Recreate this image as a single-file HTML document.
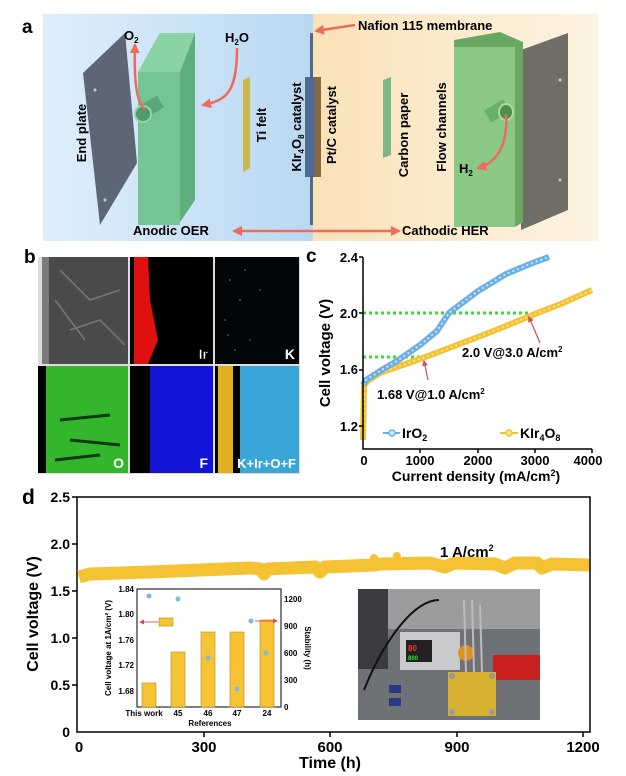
<!DOCTYPE html>
<html><head><meta charset="utf-8"><style>
body{margin:0;background:#fff}
svg{display:block;font-family:"Liberation Sans",Arial,sans-serif;font-weight:bold}
</style></head><body>
<svg width="626" height="776" viewBox="0 0 626 776" xmlns="http://www.w3.org/2000/svg">
<defs>
<linearGradient id="gb" x1="0" x2="1"><stop offset="0" stop-color="#dfeefb"/><stop offset="1" stop-color="#b9d8f2"/></linearGradient>
<linearGradient id="gy" x1="0" x2="1"><stop offset="0" stop-color="#fae2b8"/><stop offset="1" stop-color="#fdf3e2"/></linearGradient>
<marker id="ar" viewBox="0 0 10 10" refX="8" refY="5" markerWidth="4" markerHeight="4" orient="auto"><path d="M0,0L10,5L0,10z" fill="#ee6a5a"/></marker>
<marker id="ar2" viewBox="0 0 10 10" refX="8" refY="5" markerWidth="5" markerHeight="5" orient="auto"><path d="M0,0L10,5L0,10z" fill="#d05050"/></marker>
</defs>
<!-- Panel a -->
<text x="22" y="33" font-size="19">a</text>
<rect x="43" y="14" width="270" height="227" fill="url(#gb)"/>
<rect x="313" y="14" width="285" height="227" fill="url(#gy)"/>
<polygon points="83,73 125,33 137,163 100,225" fill="#5d6675"/>
<circle cx="95" cy="90" r="1.5" fill="#ccc"/><circle cx="105" cy="200" r="1.5" fill="#ccc"/>
<polygon points="138,72 160,33 195,33 195,200 178,225 138,225" fill="#5fae7d"/>
<rect x="138" y="72" width="42" height="153" fill="#74c593"/>
<polygon points="138,72 160,33 195,33 180,72" fill="#8ad3a4"/>
<rect x="140" y="100" width="22" height="14" fill="#5aa877" transform="rotate(-30 151 107)"/>
<ellipse cx="143" cy="114" rx="8" ry="8" fill="#4c9a69" stroke="#8fd6a8" stroke-width="2"/>
<path d="M145,109 C136,102 134,80 135,45" stroke="#ee6a5a" stroke-width="2.5" fill="none" marker-end="url(#ar)"/>
<text x="124" y="40" font-size="13">O<tspan font-size="8" dy="3">2</tspan></text>
<path d="M237,48 C237,95 225,100 203,105" stroke="#ee6a5a" stroke-width="2.5" fill="none" marker-end="url(#ar)"/>
<text x="225" y="42" font-size="13">H<tspan font-size="8" dy="3">2</tspan><tspan dy="-3">O</tspan></text>
<polygon points="243,80 250,77 250,168 243,172" fill="#c9b94a"/>
<text transform="translate(86,133) rotate(-90)" font-size="13" text-anchor="middle">End plate</text>
<text transform="translate(266,125) rotate(-90)" font-size="13" text-anchor="middle">Ti felt</text>
<rect x="310" y="33" width="3" height="192" fill="#50698a"/>
<rect x="305" y="77" width="10" height="100" fill="#4e6a90"/>
<rect x="315" y="77" width="6" height="100" fill="#8a6a3a"/>
<text transform="translate(301,127) rotate(-90)" font-size="13" text-anchor="middle">KIr<tspan font-size="8" dy="3">4</tspan><tspan dy="-3">O</tspan><tspan font-size="8" dy="3">8</tspan><tspan dy="-3"> catalyst</tspan></text>
<text transform="translate(336,125) rotate(-90)" font-size="13" text-anchor="middle">Pt/C catalyst</text>
<polygon points="383,80 391,77 391,155 383,158" fill="#7ab888"/>
<text transform="translate(408,135) rotate(-90)" font-size="13" text-anchor="middle">Carbon paper</text>
<polygon points="521,50 568,33 568,210 521,230" fill="#6f6d66"/>
<circle cx="560" cy="80" r="1.5" fill="#ccc"/><circle cx="560" cy="180" r="1.5" fill="#ccc"/>
<polygon points="454,40 500,32 523,42 523,222 515,227 454,227" fill="#6aa862"/>
<rect x="454" y="47" width="61" height="180" fill="#8ac985"/>
<rect x="486" y="104" width="22" height="14" fill="#6caf68" transform="rotate(-30 497 111)"/>
<ellipse cx="506" cy="112" rx="7" ry="8" fill="#4f8f4c" stroke="#a5dc9c" stroke-width="2"/>
<path d="M506,114 C508,140 500,162 478,168" stroke="#ee6a5a" stroke-width="2.5" fill="none" marker-end="url(#ar)"/>
<text x="459" y="173" font-size="13">H<tspan font-size="8" dy="3">2</tspan></text>
<text transform="translate(446,127) rotate(-90)" font-size="13" text-anchor="middle">Flow channels</text>
<line x1="355" y1="25" x2="316" y2="31" stroke="#ee6a5a" stroke-width="2.5" marker-end="url(#ar)"/>
<text x="358" y="30" font-size="13">Nafion 115 membrane</text>
<text x="133" y="235" font-size="13">Anodic OER</text>
<text x="402" y="235" font-size="13">Cathodic HER</text>
<line x1="313" y1="231" x2="234" y2="231" stroke="#ee6a5a" stroke-width="2.5" marker-end="url(#ar)"/>
<line x1="313" y1="231" x2="399" y2="231" stroke="#ee6a5a" stroke-width="2.5" marker-end="url(#ar)"/>
<!-- Panel b -->
<text x="24" y="263" font-size="19">b</text>
<rect x="38" y="257" width="262" height="217" fill="#ddd"/>
<rect x="42" y="257" width="86" height="107" fill="#4a4a4a"/>
<rect x="42" y="257" width="7" height="107" fill="#7a7a7a"/>
<path d="M60,270 L90,300 L120,290 M70,330 L100,320 L125,345 M55,300 L85,340" stroke="#777" stroke-width="1.5" fill="none"/>
<rect x="130" y="257" width="83" height="107" fill="#000"/>
<path d="M134,257 L148,257 L150,300 L158,340 L148,364 L134,364z" fill="#e01010"/>
<text x="208" y="359" font-size="14" fill="#fff" stroke="#000" stroke-width=".5" text-anchor="end">Ir</text>
<rect x="215" y="257" width="84" height="107" fill="#020608"/>
<g fill="#4b8f8a"><circle cx="230" cy="280" r=".8"/><circle cx="240" cy="300" r=".8"/><circle cx="225" cy="320" r=".8"/><circle cx="250" cy="340" r=".8"/><circle cx="235" cy="350" r=".8"/><circle cx="260" cy="290" r=".8"/><circle cx="245" cy="270" r=".8"/><circle cx="228" cy="335" r=".8"/></g>
<text x="295" y="359" font-size="14" fill="#fff" text-anchor="end">K</text>
<rect x="38" y="366" width="90" height="107" fill="#000"/>
<rect x="46" y="366" width="82" height="107" fill="#33b52c"/>
<path d="M60,420 L110,415 M70,440 L120,445 M55,460 L100,455" stroke="#103a10" stroke-width="3"/>
<text x="124" y="468" font-size="14" fill="#fff" text-anchor="end">O</text>
<rect x="130" y="366" width="83" height="107" fill="#000"/>
<rect x="150" y="366" width="63" height="107" fill="#1414d8"/>
<text x="208" y="468" font-size="14" fill="#fff" text-anchor="end">F</text>
<rect x="215" y="366" width="84" height="107" fill="#000"/>
<rect x="218" y="366" width="15" height="107" fill="#e0b020"/>
<rect x="240" y="366" width="59" height="107" fill="#3aa6d8"/>
<text x="296" y="468" font-size="13" fill="#fff" text-anchor="end">K+Ir+O+F</text>
<!-- Panel c -->
<text x="306" y="262" font-size="19">c</text>
<g font-size="13" text-anchor="end">
<text x="358" y="262">2.4</text><text x="358" y="318">2.0</text><text x="358" y="374">1.6</text><text x="358" y="431">1.2</text></g>
<g font-size="13" text-anchor="middle">
<text x="364" y="465">0</text><text x="420" y="465">1000</text><text x="478" y="465">2000</text><text x="535" y="465">3000</text><text x="588" y="465">4000</text></g>
<text x="476" y="481" font-size="14" text-anchor="middle">Current density (mA/cm<tspan font-size="9" dy="-5">2</tspan><tspan dy="5">)</tspan></text>
<text transform="translate(330,353) rotate(-90)" font-size="15" text-anchor="middle">Cell voltage (V)</text>
<line x1="363" y1="313" x2="528" y2="313" stroke="#33dd33" stroke-width="3" stroke-dasharray="3,3"/>
<line x1="363" y1="357" x2="423" y2="357" stroke="#33dd33" stroke-width="3" stroke-dasharray="3,3"/>
<polyline points="363,440 364,386 366,383 369,380 380,373 397,367 420,359 449,348 478,337 506,326 535,314 563,303 592,290" fill="none" stroke="#f3c234" stroke-width="6"/>
<polyline points="363,440 364,386 366,383 369,380 380,373 397,367 420,359 449,348 478,337 506,326 535,314 563,303 592,290" fill="none" stroke="#fde58a" stroke-width="2" stroke-dasharray="2,3"/>
<polyline points="363,385 366,380 380,371 397,361 420,345 437,331 449,313 478,291 506,274 535,262 549,257" fill="none" stroke="#6aaee6" stroke-width="6"/>
<polyline points="363,385 366,380 380,371 397,361 420,345 437,331 449,313 478,291 506,274 535,262 549,257" fill="none" stroke="#cfe6fa" stroke-width="2" stroke-dasharray="2,3"/>
<path d="M363,257 V449 H592" fill="none" stroke="#000" stroke-width="1.5"/>
<g stroke="#000" stroke-width="1.5"><line x1="359" y1="257" x2="363" y2="257"/><line x1="359" y1="313" x2="363" y2="313"/><line x1="359" y1="370" x2="363" y2="370"/><line x1="359" y1="426" x2="363" y2="426"/>
<line x1="420" y1="449" x2="420" y2="453"/><line x1="478" y1="449" x2="478" y2="453"/><line x1="535" y1="449" x2="535" y2="453"/><line x1="592" y1="449" x2="592" y2="453"/></g>
<line x1="540" y1="343" x2="529" y2="317" stroke="#d05050" stroke-width="1.2" marker-end="url(#ar2)"/>
<line x1="428" y1="380" x2="424" y2="361" stroke="#d05050" stroke-width="1.2" marker-end="url(#ar2)"/>
<text x="462" y="357" font-size="13">2.0 V@3.0 A/cm<tspan font-size="8" dy="-5">2</tspan></text>
<text x="377" y="399" font-size="13">1.68 V@1.0 A/cm<tspan font-size="8" dy="-5">2</tspan></text>
<line x1="383" y1="433" x2="400" y2="433" stroke="#6aaee6" stroke-width="2"/><circle cx="392" cy="433" r="3" fill="#cfe6fa" stroke="#6aaee6" stroke-width="1.5"/>
<text x="402" y="438" font-size="14">IrO<tspan font-size="9" dy="3">2</tspan></text>
<line x1="500" y1="433" x2="518" y2="433" stroke="#f3c234" stroke-width="2"/><circle cx="509" cy="433" r="3" fill="#fde58a" stroke="#f3c234" stroke-width="1.5"/>
<text x="520" y="438" font-size="14">KIr<tspan font-size="9" dy="3">4</tspan><tspan dy="-3">O</tspan><tspan font-size="9" dy="3">8</tspan></text>
<!-- Panel d -->
<text x="22" y="504" font-size="21">d</text>
<rect x="77" y="497" width="513" height="235" fill="none" stroke="#000" stroke-width="1.5"/>
<g font-size="14" text-anchor="end">
<text x="70" y="502">2.5</text><text x="70" y="549">2.0</text><text x="70" y="596">1.5</text><text x="70" y="643">1.0</text><text x="70" y="690">0.5</text><text x="70" y="737">0</text></g>
<g stroke="#000" stroke-width="1.5"><line x1="72" y1="497" x2="77" y2="497"/><line x1="72" y1="544" x2="77" y2="544"/><line x1="72" y1="591" x2="77" y2="591"/><line x1="72" y1="638" x2="77" y2="638"/><line x1="72" y1="685" x2="77" y2="685"/>
<line x1="204" y1="732" x2="204" y2="737"/><line x1="330" y1="732" x2="330" y2="737"/><line x1="457" y1="732" x2="457" y2="737"/><line x1="583" y1="732" x2="583" y2="737"/></g>
<g font-size="15" text-anchor="middle">
<text x="79" y="752">0</text><text x="204" y="752">300</text><text x="330" y="752">600</text><text x="457" y="752">900</text><text x="583" y="752">1200</text></g>
<text x="330" y="768" font-size="16" text-anchor="middle">Time (h)</text>
<text transform="translate(38,614) rotate(-90)" font-size="16" text-anchor="middle">Cell voltage (V)</text>
<polyline points="79,577 90,574 150,572 200,570 250,568 260,569 264,574 268,569 315,567 320,572 325,567 375,565 380,564 430,563 445,567 455,563 495,564 505,568 515,563 537,563 542,568 552,564 589,565" fill="none" stroke="#f5c234" stroke-width="13" stroke-linejoin="round"/>
<circle cx="374" cy="558" r="4" fill="#f5c234"/><circle cx="397" cy="556" r="4" fill="#f5c234"/>
<text x="440" y="557" font-size="15">1 A/cm<tspan font-size="9" dy="-6">2</tspan></text>
<!-- inset -->
<rect x="137" y="589" width="144" height="118" fill="#fff" stroke="#000" stroke-width="1"/>
<g fill="#f7c234" stroke="#b08a20" stroke-width=".6">
<rect x="142" y="683" width="14" height="24"/><rect x="171" y="652" width="14" height="55"/><rect x="201" y="632" width="14" height="75"/><rect x="230" y="632" width="14" height="75"/><rect x="260" y="620" width="14" height="87"/>
<rect x="159" y="618" width="14" height="8"/></g>
<g fill="#7fb8e0"><circle cx="149" cy="596" r="2.5"/><circle cx="178" cy="599" r="2.5"/><circle cx="208" cy="658" r="2.5"/><circle cx="237" cy="689" r="2.5"/><circle cx="266" cy="653" r="2.5"/><circle cx="251" cy="621" r="2.5"/></g>
<line x1="158" y1="622" x2="140" y2="622" stroke="#e06050" stroke-width="1" marker-end="url(#ar2)"/>
<line x1="255" y1="621" x2="277" y2="621" stroke="#e06050" stroke-width="1" marker-end="url(#ar2)"/>
<g font-size="8" text-anchor="end"><text x="134" y="592">1.84</text><text x="134" y="617">1.80</text><text x="134" y="643">1.76</text><text x="134" y="668">1.72</text><text x="134" y="694">1.68</text></g>
<g font-size="8"><text x="284" y="602">1200</text><text x="284" y="629">900</text><text x="284" y="656">600</text><text x="284" y="683">300</text><text x="284" y="710">0</text></g>
<g font-size="8" text-anchor="middle"><text x="144" y="716">This work</text><text x="178" y="716">45</text><text x="208" y="716">46</text><text x="237" y="716">47</text><text x="267" y="716">24</text></g>
<text x="210" y="726" font-size="8" text-anchor="middle">References</text>
<text transform="translate(111,648) rotate(-90)" font-size="8" text-anchor="middle">Cell voltage at 1A/cm² (V)</text>
<text transform="translate(305,648) rotate(90)" font-size="8" text-anchor="middle">Stability (h)</text>
<!-- photo -->
<rect x="358" y="589" width="182" height="131" fill="#6e7176"/>
<rect x="358" y="589" width="182" height="40" fill="#9a9c9e"/>
<rect x="358" y="589" width="30" height="80" fill="#3a3c40"/>
<rect x="400" y="632" width="60" height="38" fill="#c7c9cb"/>
<rect x="406" y="640" width="26" height="22" fill="#222"/>
<text x="408" y="651" font-size="8" fill="#ff3030">80</text><text x="408" y="660" font-size="6" fill="#30e030">800</text>
<circle cx="466" cy="653" r="8" fill="#e09020"/>
<rect x="493" y="655" width="47" height="25" fill="#c82020"/>
<path d="M364,690 C384,640 414,600 439,600" stroke="#111" stroke-width="2" fill="none"/>
<rect x="448" y="672" width="48" height="44" fill="#d8b030"/>
<circle cx="452" cy="676" r="3" fill="#999"/><circle cx="492" cy="676" r="3" fill="#999"/><circle cx="452" cy="712" r="3" fill="#999"/><circle cx="492" cy="712" r="3" fill="#999"/>
<rect x="389" y="685" width="12" height="8" fill="#2a3a80"/><rect x="389" y="698" width="12" height="8" fill="#2a3a80"/>
<path d="M464,600 L466,672 M472,600 L474,672 M480,605 L482,672" stroke="#bbb" stroke-width="2"/>
</svg>
</body></html>
